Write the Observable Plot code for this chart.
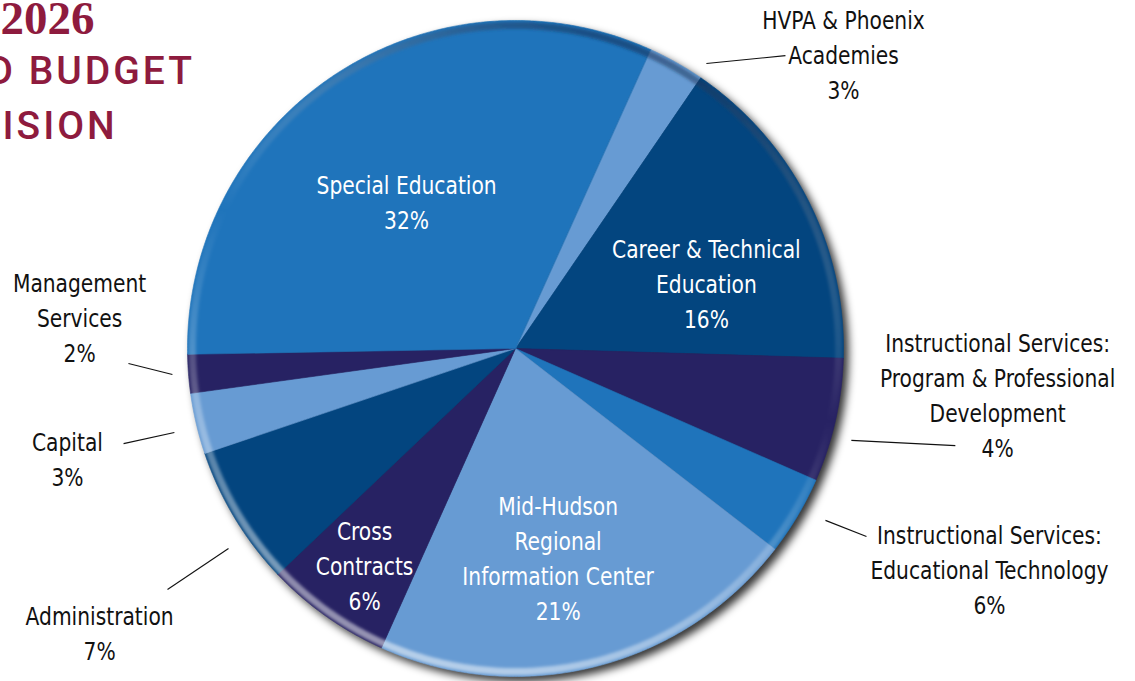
<!DOCTYPE html>
<html>
<head>
<meta charset="utf-8">
<script src="https://cdn.jsdelivr.net/npm/d3@7"></script>
<script src="https://cdn.jsdelivr.net/npm/@observablehq/plot@0.6"></script>
<style>
  html, body { margin: 0; padding: 0; background: #ffffff; overflow: hidden; }
  #chart svg { display: block; }
</style>
</head>
<body>
<div id="chart"></div>
<script>
// ---------------- DATA ----------------
const categories = [
  "HVPA & Phoenix Academies",
  "Career & Technical Education",
  "Instructional Services: Program & Professional Development",
  "Instructional Services: Educational Technology",
  "Mid-Hudson Regional Information Center",
  "Cross Contracts",
  "Administration",
  "Capital",
  "Management Services",
  "Special Education"
];
// slice sizes as drawn in the reference (percent of the circle)
const sliceShares = [2.8, 15.9, 6.1, 3.9, 21.2, 6.2, 6.9, 3.0, 1.9, 32.0];
// percentages as printed on the labels
const percentLabels = ["3%", "16%", "4%", "6%", "21%", "6%", "7%", "3%", "2%", "32%"];
// label text, line by line
const labelLines = [
  ["HVPA & Phoenix", "Academies"],
  ["Career & Technical", "Education"],
  ["Instructional Services:", "Program & Professional", "Development"],
  ["Instructional Services:", "Educational Technology"],
  ["Mid-Hudson", "Regional", "Information Center"],
  ["Cross", "Contracts"],
  ["Administration"],
  ["Capital"],
  ["Management", "Services"],
  ["Special Education"]
];
const titleLines = ["2026", "D BUDGET", "ISION"];

// ---------------- STYLE / LAYOUT ----------------
const sliceColors = ["#679bd3", "#03457f", "#272263", "#1f74bb", "#679bd3", "#272263", "#03457f", "#679bd3", "#272263", "#1f74bb"];
const startDeg = 24.3;             // first slice boundary, clockwise from 12 o'clock
const R = 328, CX = 515, CY = 348; // pie placement in the frame
// label anchors in pie units (radius = 1, y up) and whether inside the pie
const labelLayout = {
  "HVPA & Phoenix Academies": {x: 1.000, y: 0.892, inside: false, leader: [[0.582, 0.869], [0.823, 0.893]]},
  "Career & Technical Education": {x: 0.582, y: 0.193, inside: true},
  "Instructional Services: Program & Professional Development": {x: 1.470, y: -0.146, inside: false, leader: [[1.024, -0.280], [1.341, -0.296]]},
  "Instructional Services: Educational Technology": {x: 1.445, y: -0.677, inside: false, leader: [[0.945, -0.524], [1.070, -0.573]]},
  "Mid-Hudson Regional Information Center": {x: 0.130, y: -0.642, inside: true},
  "Cross Contracts": {x: -0.460, y: -0.665, inside: true},
  "Administration": {x: -1.268, y: -0.872, inside: false, leader: [[-0.875, -0.610], [-1.061, -0.735]]},
  "Capital": {x: -1.366, y: -0.341, inside: false, leader: [[-1.040, -0.256], [-1.195, -0.290]]},
  "Management Services": {x: -1.329, y: 0.091, inside: false, leader: [[-1.046, -0.079], [-1.180, -0.046]]},
  "Special Education": {x: -0.332, y: 0.444, inside: true}
};
const labelFont = "'DejaVu Sans Condensed', 'Liberation Sans Narrow', Roboto, sans-serif";
const labelSize = 25, labelSquash = 0.9;
const titleColor = "#8e1b3e";

// ---------------- BUILD ----------------
const rad = Math.PI / 180;
const rows = categories.map((c, i) => ({category: c, share: sliceShares[i], pct: percentLabels[i], lines: labelLines[i]}));
const pie = d3.pie().sort(null).value(d => d.share)
  .startAngle(startDeg * rad).endAngle((startDeg + 360) * rad);
const arcs = pie(rows);

function slicePolygon(a0, a1, r = 1) {
  const ring = [[0, 0]];
  const n = Math.max(2, Math.ceil((a1 - a0) / (0.5 * rad)));
  for (let k = 0; k <= n; k++) {
    const a = a0 + (a1 - a0) * k / n;
    ring.push([r * Math.sin(a), r * Math.cos(a)]);
  }
  ring.push([0, 0]);
  return ring;
}
function circleRing(r) {
  const ring = [];
  for (let k = 0; k <= 720; k++) {
    const a = 2 * Math.PI * k / 720;
    ring.push([r * Math.sin(a), r * Math.cos(a)]);
  }
  return ring;
}
const sliceFeatures = arcs.map(a => ({
  type: "Feature",
  properties: {category: a.data.category},
  geometry: {type: "Polygon", coordinates: [slicePolygon(a.startAngle, a.endAngle)]}
}));
const discFeature = {type: "Feature", properties: {}, geometry: {type: "Polygon", coordinates: [circleRing(1)]}};
const rimFeature = {type: "Feature", properties: {}, geometry: {type: "LineString", coordinates: circleRing(0.985)}};

const labels = rows.map(r => ({
  category: r.category,
  text: [...r.lines, r.pct].join("\n"),
  x: labelLayout[r.category].x,
  y: labelLayout[r.category].y,
  inside: labelLayout[r.category].inside
}));
const leaders = rows.filter(r => labelLayout[r.category].leader).map(r => {
  const [[x1, y1], [x2, y2]] = labelLayout[r.category].leader;
  return {category: r.category, x1, y1, x2, y2};
});

const projection = d3.geoIdentity().reflectY(true).scale(R).translate([CX, CY]);

const labelOpts = {x: "x", y: "y", dy: -3, text: "text", fontSize: labelSize, lineHeight: 1.4, fontFamily: labelFont, ariaDescription: "label"};
const titleSans = "Roboto, 'Liberation Sans', Arial, sans-serif";

const chart = Plot.plot({
  width: 1135,
  height: 681,
  margin: 0,
  projection,
  color: {domain: categories, range: sliceColors},
  marks: [
    Plot.geo([discFeature], {fill: "#000", fillOpacity: 0.8, dx: 5, dy: 5, ariaDescription: "shadow"}),
    Plot.geo(sliceFeatures, {fill: d => d.properties.category, stroke: d => d.properties.category, strokeWidth: 0.6}),
    Plot.geo([rimFeature], {fill: "none", stroke: "url(#rimGrad)", strokeWidth: 7, ariaDescription: "rim"}),
    Plot.link(leaders, {x1: "x1", y1: "y1", x2: "x2", y2: "y2", stroke: "#111", strokeWidth: 1.1}),
    Plot.text(labels.filter(d => d.inside), {...labelOpts, fill: "white"}),
    Plot.text(labels.filter(d => !d.inside), {...labelOpts, fill: "#111"}),
    Plot.text([titleLines[0]], {text: d => d, frameAnchor: "top-left", textAnchor: "start", lineAnchor: "bottom", dx: 0, dy: 33, fill: titleColor, fontSize: 47, fontWeight: "bold", fontFamily: "'Liberation Serif', 'DejaVu Serif', serif"}),
    Plot.text([titleLines[1]], {text: d => d, frameAnchor: "top-left", textAnchor: "start", lineAnchor: "bottom", dx: -13, dy: 83, fill: titleColor, fontSize: 39, fontWeight: 500, fontFamily: titleSans, ariaDescription: "subtitle"}),
    Plot.text([titleLines[2]], {text: d => d, frameAnchor: "top-left", textAnchor: "start", lineAnchor: "bottom", dx: 2, dy: 138, fill: titleColor, fontSize: 39, fontWeight: 500, fontFamily: titleSans, ariaDescription: "subtitle"})
  ]
});

// ---------------- finishing touches (shadow, bevel rim, condensed labels) ----------------
const ns = "http://www.w3.org/2000/svg";
const defs = document.createElementNS(ns, "defs");
defs.innerHTML =
  '<filter id="pieShadow" x="-10%" y="-10%" width="120%" height="120%"><feGaussianBlur stdDeviation="4"/></filter>' +
  '<filter id="rimBlur" x="-5%" y="-5%" width="110%" height="110%"><feGaussianBlur stdDeviation="1.6"/></filter>' +
  '<linearGradient id="rimGrad" gradientUnits="userSpaceOnUse" x1="' + (CX + 0.35 * R) + '" y1="' + (CY - R) + '" x2="' + (CX - 0.35 * R) + '" y2="' + (CY + R) + '">' +
  '<stop offset="0" stop-color="#001a40" stop-opacity="0.55"/>' +
  '<stop offset="0.45" stop-color="#ffffff" stop-opacity="0"/>' +
  '<stop offset="0.7" stop-color="#ffffff" stop-opacity="0.25"/>' +
  '<stop offset="1" stop-color="#ffffff" stop-opacity="0.55"/></linearGradient>';
chart.insertBefore(defs, chart.firstChild);
chart.querySelectorAll('g[aria-description="shadow"]').forEach(g => g.setAttribute("filter", "url(#pieShadow)"));
chart.querySelectorAll('g[aria-description="rim"]').forEach(g => g.setAttribute("filter", "url(#rimBlur)"));
chart.querySelectorAll('g[aria-description="subtitle"]').forEach(g => g.setAttribute("letter-spacing", "3"));
chart.querySelectorAll('g[aria-description="label"] text').forEach(t => {
  const tr = t.getAttribute("transform");
  if (tr) {
    t.setAttribute("transform", tr + " scale(" + labelSquash + ",1)");
  } else {
    const x = +t.getAttribute("x") || 0, y = +t.getAttribute("y") || 0;
    t.removeAttribute("x"); t.removeAttribute("y");
    t.setAttribute("transform", "translate(" + x + "," + y + ") scale(" + labelSquash + ",1)");
  }
});

document.getElementById("chart").appendChild(chart);
</script>
</body>
</html>
